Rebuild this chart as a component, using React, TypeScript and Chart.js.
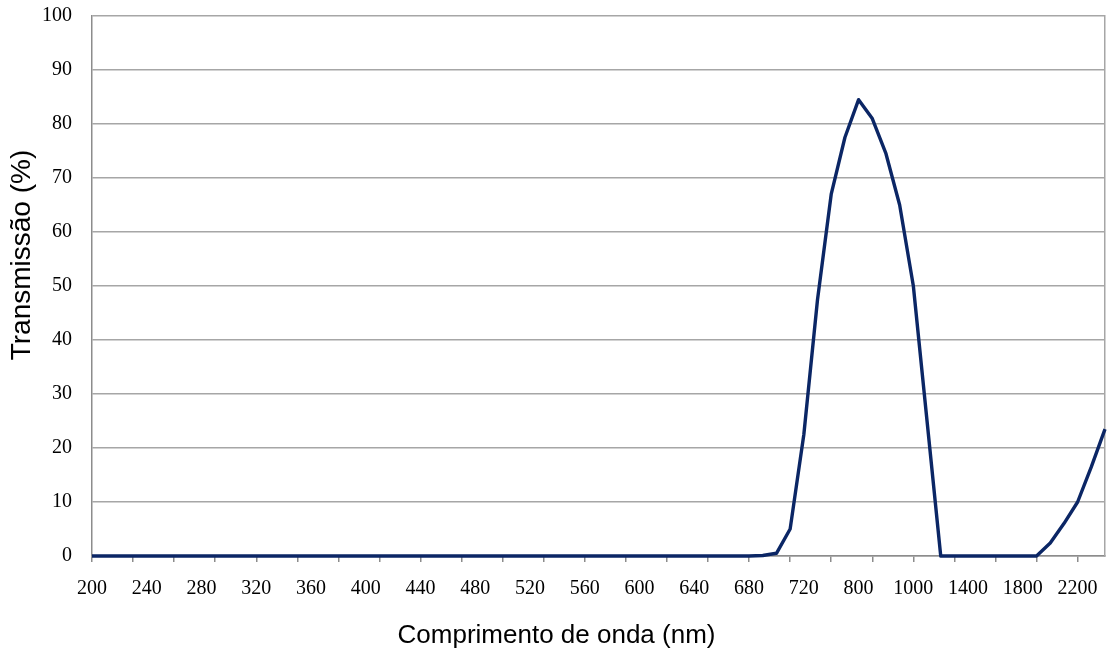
import React, { useEffect, useRef } from 'react';
import { Chart, registerables } from 'chart.js';

Chart.register(...registerables);

// Wavelength categories (nm) – the axis is categorical, not linear
const wavelengths: number[] = [
  200, 210, 220, 230, 240, 250, 260, 270, 280, 290,
  300, 310, 320, 330, 340, 350, 360, 370, 380, 390,
  400, 410, 420, 430, 440, 450, 460, 470, 480, 490,
  500, 510, 520, 530, 540, 550, 560, 570, 580, 590,
  600, 610, 620, 630, 640, 650, 660, 670, 680, 690,
  700, 710, 720, 740, 760, 780, 800, 850, 900, 950,
  1000, 1100, 1200, 1300, 1400, 1500, 1600, 1700, 1800, 1900,
  2000, 2100, 2200, 2300, 2400,
];

// Transmission (%)
const transmission: number[] = [
  0, 0, 0, 0, 0, 0, 0, 0, 0, 0,
  0, 0, 0, 0, 0, 0, 0, 0, 0, 0,
  0, 0, 0, 0, 0, 0, 0, 0, 0, 0,
  0, 0, 0, 0, 0, 0, 0, 0, 0, 0,
  0, 0, 0, 0, 0, 0, 0, 0, 0, 0.1,
  0.5, 5, 22.5, 47.5, 67, 77.5, 84.5, 81, 74.5, 65,
  50, 25, 0, 0, 0, 0, 0, 0, 0, 0,
  2.4, 6, 10, 16.5, 23.5,
];

const labelEvery = 4;
const tickMarkEvery = 3;
const yMin = 0;
const yMax = 100;
const yStep = 10;

const xTitle = 'Comprimento de onda (nm)';
const yTitle = 'Transmissão (%)';

const TICK_FONT = '"Liberation Serif", "Times New Roman", serif';
const TITLE_FONT = '"Liberation Sans", Arial, sans-serif';

export default function App() {
  const ref = useRef<HTMLCanvasElement>(null);

  useEffect(() => {
    if (!ref.current) return;

    const axisTitles = {
      id: 'axisTitles',
      afterDraw(chart: any) {
        const ctx = chart.ctx;
        ctx.save();
        ctx.fillStyle = '#000';
        ctx.textAlign = 'center';
        ctx.textBaseline = 'middle';
        ctx.font = `26px ${TITLE_FONT}`;
        ctx.fillText(xTitle, chart.width / 2 + 2, chart.height - 13);
        ctx.font = `28px ${TITLE_FONT}`;
        ctx.translate(22, chart.height * 0.393);
        ctx.rotate(-Math.PI / 2);
        ctx.fillText(yTitle, 0, 0);
        ctx.restore();
      },
    };

    const chart = new Chart(ref.current, {
      type: 'line',
      data: {
        labels: wavelengths.map(String),
        datasets: [
          {
            data: transmission,
            borderColor: '#0b2665',
            borderWidth: 3.4,
            pointRadius: 0,
            tension: 0,
            fill: false,
            clip: false as any,
            borderJoinStyle: 'round',
          },
        ],
      },
      options: {
        responsive: false,
        animation: false,
        layout: { padding: 0 },
        plugins: {
          legend: { display: false },
          tooltip: { enabled: false },
        },
        scales: {
          x: {
            type: 'category',
            offset: false,
            grid: {
              display: true,
              drawOnChartArea: false,
              drawTicks: true,
              tickLength: 6,
              lineWidth: 1.5,
              color: (c: any) => (c.index % tickMarkEvery === 0 ? '#8c8c8c' : 'rgba(0,0,0,0)'),
            },
            border: { display: true, color: '#8c8c8c', width: 1.5 },
            ticks: {
              autoSkip: false,
              maxRotation: 0,
              minRotation: 0,
              padding: 15,
              color: '#000',
              font: { family: TICK_FONT, size: 20 },
              callback: (_v: any, i: number) => (i % labelEvery === 0 ? String(wavelengths[i]) : ''),
            },
            afterFit: (s: any) => {
              s.height = 93;
              s.paddingLeft = 0;
              s.paddingRight = 0;
            },
          },
          y: {
            min: yMin,
            max: yMax,
            position: 'left',
            grid: {
              display: true,
              drawTicks: false,
              color: '#a6a6a6',
              lineWidth: 1.5,
            },
            border: { display: true, color: '#8c8c8c', width: 1.5 },
            ticks: {
              stepSize: yStep,
              padding: 20,
              color: '#000',
              font: { family: TICK_FONT, size: 20 },
            },
            afterFit: (s: any) => {
              s.width = 92;
              s.paddingTop = 16;
              s.paddingBottom = 0;
            },
          },
          y2: {
            min: yMin,
            max: yMax,
            position: 'right',
            grid: { display: false, drawTicks: false },
            border: { display: true, color: '#a6a6a6', width: 1.5 },
            ticks: { display: false },
            afterFit: (s: any) => {
              s.width = 4;
              s.paddingTop = 0;
              s.paddingBottom = 0;
            },
          },
        },
      },
      plugins: [axisTitles],
    });

    return () => chart.destroy();
  }, []);

  return (
    <div style={{ position: 'fixed', left: 0, top: 0, width: 1109, height: 649, background: '#fff' }}>
      <canvas ref={ref} width={1109} height={649} style={{ display: 'block' }} />
    </div>
  );
}
